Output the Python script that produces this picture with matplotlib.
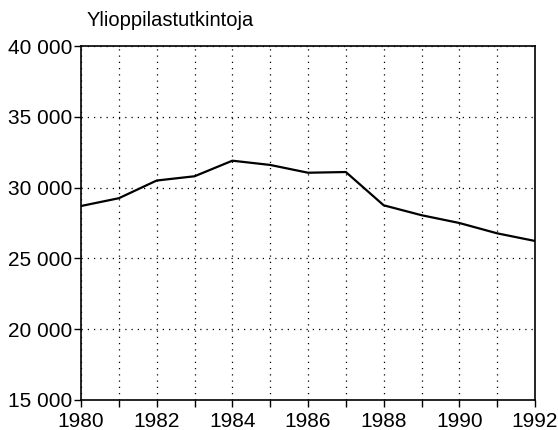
import matplotlib
matplotlib.use("Agg")
import matplotlib.pyplot as plt
from matplotlib.ticker import FuncFormatter

years = [1980, 1981, 1982, 1983, 1984, 1985, 1986, 1987, 1988, 1989, 1990, 1991, 1992]
degrees = [28700, 29250, 30500, 30800, 31900, 31600, 31050, 31100, 28750, 28050, 27500, 26770, 26230]
year_ticks = [1980, 1982, 1984, 1986, 1988, 1990, 1992]
y_ticks = [15000, 20000, 25000, 30000, 35000, 40000]

plt.rcParams["font.family"] = ["Liberation Sans", "DejaVu Sans"]

fig = plt.figure(figsize=(5.58, 4.30), dpi=100)
ax = fig.add_axes([0.1452, 0.0698, 0.8136, 0.8232])

ax.plot(years, degrees, color="black", linewidth=1.6, zorder=3)

ax.set_xlim(1980, 1992)
ax.set_ylim(15000, 40000)
ax.set_xticks(years, minor=True)
ax.set_xticks(year_ticks)
ax.set_yticks(y_ticks)
ax.yaxis.set_major_formatter(FuncFormatter(lambda v, p: f"{int(v):,}".replace(",", " ")))

ax.grid(True, which="both", axis="x", color="black", linestyle=(0, (1, 4)), linewidth=0.9)
ax.grid(True, which="major", axis="y", color="black", linestyle=(0, (1, 4)), linewidth=0.9)

ax.tick_params(axis="both", which="both", direction="out", length=5, width=1.0,
               labelsize=15, pad=1.5, colors="black")
ax.tick_params(axis="x", which="major", pad=3.5)
for s in ax.spines.values():
    s.set_linewidth(1.2)

fig.text(0.156, 0.94, "Ylioppilastutkintoja", fontsize=14.5, ha="left", va="baseline")

fig.savefig("out.png", dpi=100)
